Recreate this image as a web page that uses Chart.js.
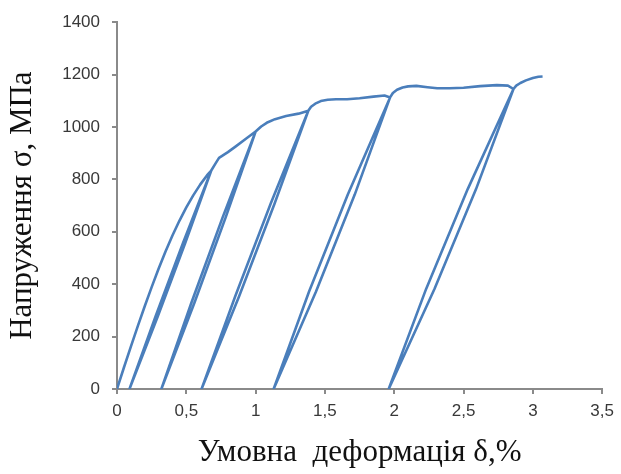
<!DOCTYPE html>
<html>
<head>
<meta charset="utf-8">
<script src="https://cdn.jsdelivr.net/npm/chart.js@4.4.1/dist/chart.umd.min.js"></script>
<style>
  html, body { margin: 0; padding: 0; background: #ffffff; }
  canvas { display: block; }
</style>
</head>
<body>
<canvas id="chart" width="621" height="474"></canvas>
<script>
// Loading / unloading path of the tensile test: strain (%) and stress (MPa), in test order
const strainPct = [
  0, 0.05, 0.1, 0.15, 0.2, 0.25, 0.3, 0.35, 0.4, 0.45, 0.5, 0.55, 0.6, 0.65, 0.68,
  0.4755, 0.2786, 0.09, 0.2946, 0.4915, 0.68,
  0.71, 0.736, 0.8, 0.857, 0.93, 1.0,
  0.762, 0.536, 0.32, 0.558, 0.784, 1.0,
  1.04, 1.08, 1.14, 1.22, 1.31, 1.38,
  1.109, 0.853, 0.61, 0.881, 1.137, 1.38,
  1.4, 1.43, 1.47, 1.52, 1.58, 1.66, 1.75, 1.85, 1.93, 1.97,
  1.665, 1.385, 1.13, 1.435, 1.715, 1.97,
  1.99, 2.02, 2.06, 2.1, 2.16, 2.24, 2.31, 2.4, 2.5, 2.62, 2.74, 2.82, 2.86,
  2.53, 2.23, 1.96, 2.29, 2.59, 2.86,
  2.88, 2.91, 2.95, 3.0, 3.04, 3.07
];
const stressMPa = [
  0, 82, 162, 240, 316, 389, 459, 525, 586, 642, 693, 739, 780, 816, 834,
  556, 278, 0, 278, 556, 834,
  860, 882, 904, 926, 955, 983,
  655, 328, 0, 328, 655, 983,
  1002, 1016, 1030, 1042, 1051, 1062,
  708, 354, 0, 354, 708, 1062,
  1077, 1089, 1099, 1104, 1106, 1106, 1110, 1116, 1120, 1113,
  742, 371, 0, 371, 742, 1113,
  1130, 1142, 1151, 1155, 1157, 1152, 1148, 1148, 1150, 1156, 1160, 1158, 1145,
  763, 382, 0, 382, 763, 1145,
  1158, 1168, 1178, 1187, 1192, 1193
];

// Axis tick labels
const xTickLabels = ['0', '0,5', '1', '1,5', '2', '2,5', '3', '3,5'];
const yTickLabels = ['0', '200', '400', '600', '800', '1000', '1200', '1400'];

const xTitle = 'Умовна  деформація δ,%';
const yTitle = 'Напруження σ, МПа';

const points = strainPct.map((x, i) => ({ x: x, y: stressMPa[i] }));

const axisGrey = '#8a8a8a';
const tickFont = { family: "'Liberation Sans', Arial, sans-serif", size: 17 };
const titleFont = { family: "'Liberation Serif', 'Times New Roman', serif", size: 31 };

new Chart(document.getElementById('chart'), {
  type: 'scatter',
  data: {
    datasets: [{
      data: points,
      showLine: true,
      borderColor: '#4a7ebb',
      borderWidth: 2.6,
      borderJoinStyle: 'round',
      pointRadius: 0,
      pointHoverRadius: 0,
      tension: 0,
      fill: false
    }]
  },
  options: {
    responsive: false,
    animation: false,
    devicePixelRatio: 1,
    layout: { padding: { left: 0, top: 20, right: 14, bottom: 0 } },
    plugins: {
      legend: { display: false },
      tooltip: { enabled: false }
    },
    scales: {
      x: {
        type: 'linear',
        min: 0,
        max: 3.5,
        border: { display: true, color: axisGrey, width: 2 },
        grid: { drawOnChartArea: false, drawTicks: true, tickLength: 5, color: axisGrey, lineWidth: 2 },
        ticks: {
          stepSize: 0.5,
          padding: 7,
          color: '#383838',
          font: tickFont,
          maxRotation: 0,
          autoSkip: false,
          callback: (v, i) => xTickLabels[i]
        },
        title: {
          display: true,
          text: xTitle,
          color: '#111111',
          font: titleFont,
          padding: { top: 0, bottom: 3 }
        },
        afterFit: (s) => { s.height = 85; }
      },
      y: {
        type: 'linear',
        min: 0,
        max: 1400,
        border: { display: true, color: axisGrey, width: 2 },
        grid: { drawOnChartArea: false, drawTicks: true, tickLength: 5, color: axisGrey, lineWidth: 2 },
        ticks: {
          stepSize: 200,
          padding: 12,
          color: '#383838',
          font: tickFont,
          callback: (v, i) => yTickLabels[i]
        },
        title: {
          display: true,
          text: yTitle,
          color: '#111111',
          font: titleFont,
          padding: { top: 4, bottom: 0 }
        },
        afterFit: (s) => { s.width = 117; }
      }
    }
  }
});
</script>
</body>
</html>
